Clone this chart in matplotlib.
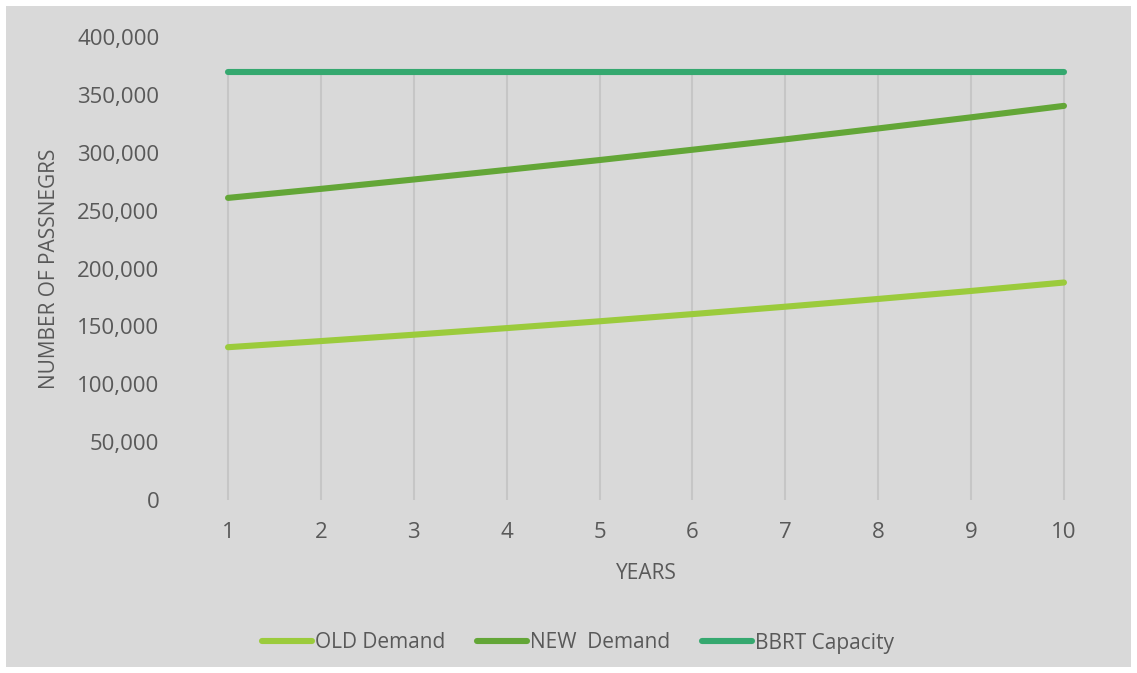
import matplotlib.pyplot as plt
from matplotlib.patches import Rectangle
from matplotlib.ticker import FuncFormatter

plt.rcParams['font.family'] = ['Open Sans', 'DejaVu Sans']

# data
years = [1, 2, 3, 4, 5, 6, 7, 8, 9, 10]
old_demand = [132000, 137300, 142800, 148500, 154400, 160600, 167000, 173700, 180600, 187900]
new_demand = [261000, 268800, 276900, 285200, 293700, 302600, 311600, 321000, 330600, 340500]
bbrt_capacity = [370000, 370000, 370000, 370000, 370000, 370000, 370000, 370000, 370000, 370000]

series_names = ['OLD Demand', 'NEW  Demand', 'BBRT Capacity']
series_colors = ['#9bcb3c', '#63a637', '#35a86f']

bg = '#d9d9d9'
text_color = '#595959'

fig = plt.figure(figsize=(11.37, 6.73), dpi=100, facecolor='white')
# gray chart area inside a thin white margin
fig.patches.append(Rectangle((6 / 1137, 6 / 673), 1 - 12 / 1137, 1 - 12 / 673,
                             transform=fig.transFigure, facecolor=bg,
                             edgecolor='none', zorder=-10))

ax = fig.add_axes([181.6 / 1137, (673 - 500) / 673, 928.8 / 1137, 463 / 673])
ax.set_facecolor(bg)
ax.patch.set_alpha(0)

# drop lines from the highest series to the axis
tops = [max(a, b, c) for a, b, c in zip(old_demand, new_demand, bbrt_capacity)]
ax.vlines(years, 0, tops, color='#c6c6c6', linewidth=1.5, zorder=1)

for vals, name, col in zip([old_demand, new_demand, bbrt_capacity], series_names, series_colors):
    ax.plot(years, vals, color=col, linewidth=4.4, solid_capstyle='round',
            label=name, zorder=3)

ax.set_xlim(0.5, 10.5)
ax.set_ylim(0, 400000)
ax.set_xticks(years)
ax.set_yticks(range(0, 400001, 50000))
ax.yaxis.set_major_formatter(FuncFormatter(lambda v, p: f'{int(v):,}'))

for s in ax.spines.values():
    s.set_visible(False)
ax.tick_params(length=0, colors=text_color, labelsize=16)
ax.tick_params(axis='y', pad=16)
ax.tick_params(axis='x', pad=16)

ax.set_xlabel('YEARS', color=text_color, fontsize=15, labelpad=14)
ax.set_ylabel('NUMBER OF PASSNEGRS', color=text_color, fontsize=15, labelpad=12)

leg = fig.legend(loc='center', bbox_to_anchor=(578 / 1137, 30 / 673), ncol=3,
                 frameon=False, fontsize=15, handlelength=2.4,
                 handletextpad=0.15, columnspacing=1.5)
for t in leg.get_texts():
    t.set_color(text_color)

fig.savefig('out.png', dpi=100, facecolor='white')
